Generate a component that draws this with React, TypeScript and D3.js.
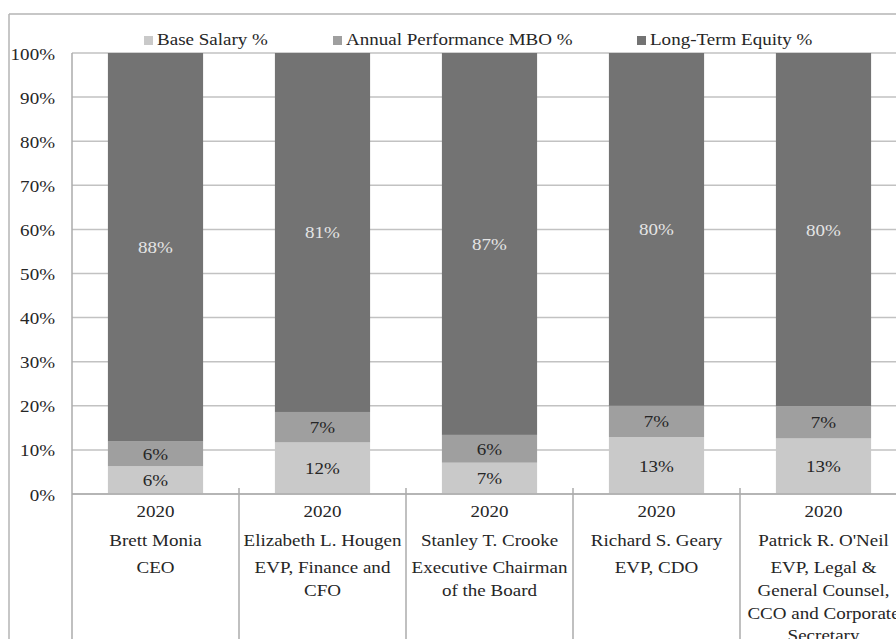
import React from 'react';
import * as d3 from 'd3';

const names = ['Brett Monia', 'Elizabeth L. Hougen', 'Stanley T. Crooke', 'Richard S. Geary', "Patrick R. O'Neil"];
const years = ['2020', '2020', '2020', '2020', '2020'];
const roles = [
  ['CEO'],
  ['EVP, Finance and', 'CFO'],
  ['Executive Chairman', 'of the Board'],
  ['EVP, CDO'],
  ['EVP, Legal &', 'General Counsel,', 'CCO and Corporate', 'Secretary'],
];
const baseSalary = [6.3, 11.7, 7.1, 12.9, 12.6];
const annualMbo = [5.6, 6.9, 6.3, 7.1, 7.3];
const longTermEquity = [88.1, 81.4, 86.6, 80.0, 80.1];
const seriesNames = ['Base Salary %', 'Annual Performance MBO %', 'Long-Term Equity %'];
const yTicks = [0, 10, 20, 30, 40, 50, 60, 70, 80, 90, 100];

const colors = ['#c9c9c9', '#9f9f9f', '#737373'];
const labelColors = ['#262626', '#262626', '#e4e4e4'];
const FONT = "'Liberation Serif', 'DejaVu Serif', serif";
const SX = 1.12;

function T({ x, y, anchor = 'middle', fill = '#262626', children }) {
  return (
    <text
      transform={`translate(${x},${y}) scale(${SX},1)`}
      textAnchor={anchor}
      fill={fill}
      style={{ fontFamily: FONT, fontSize: '17px' }}
    >
      {children}
    </text>
  );
}

export default function App() {
  const width = 896;
  const height = 639;
  const plotLeft = 72;
  const plotRight = 907;

  const y = d3.scaleLinear().domain([0, 100]).range([494, 53]);
  const x = d3.scaleBand().domain(names).range([plotLeft, plotRight])
    .paddingInner(0.43).paddingOuter(0.215);
  const cat = d3.scaleBand().domain(names).range([plotLeft, plotRight]).padding(0);

  const table = names.map((n, i) => ({
    name: n, base: baseSalary[i], mbo: annualMbo[i], lte: longTermEquity[i],
  }));
  const stacked = d3.stack().keys(['base', 'mbo', 'lte'])(table);

  const legendX = [144, 333, 637];

  return (
    <svg
      width={width}
      height={height}
      style={{ position: 'absolute', left: 0, top: 0, background: '#fff', overflow: 'hidden' }}
    >
      {/* outer chart border (cropped) */}
      <line x1={9} x2={width} y1={14} y2={14} stroke="#b4b4b4" strokeWidth={1.5} />
      <line x1={9} x2={9} y1={14} y2={height} stroke="#b4b4b4" strokeWidth={1.5} />

      {/* gridlines */}
      {yTicks.map((t) => (
        <line key={t} x1={plotLeft} x2={plotRight} y1={y(t)} y2={y(t)} stroke="#c2c2c2" strokeWidth={1.5} />
      ))}

      {/* bars */}
      {stacked.map((s, si) => (
        <g key={s.key} fill={colors[si]}>
          {s.map((d, i) => (
            <rect
              key={i}
              x={x(names[i])}
              width={x.bandwidth()}
              y={y(d[1])}
              height={y(d[0]) - y(d[1])}
            />
          ))}
        </g>
      ))}

      {/* data labels */}
      {stacked.map((s, si) => s.map((d, i) => (
        <T
          key={`${si}-${i}`}
          x={x(names[i]) + x.bandwidth() / 2}
          y={(y(d[0]) + y(d[1])) / 2 + 6}
          fill={labelColors[si]}
        >
          {`${Math.round(d[1] - d[0])}%`}
        </T>
      )))}

      {/* axes */}
      <line x1={plotLeft} x2={plotRight} y1={y(0)} y2={y(0)} stroke="#ababab" strokeWidth={1.5} />
      <line x1={plotLeft} x2={plotLeft} y1={y(100)} y2={height} stroke="#ababab" strokeWidth={1.5} />
      {names.slice(1).map((n) => (
        <line key={n} x1={cat(n)} x2={cat(n)} y1={y(0) - 6} y2={height} stroke="#ababab" strokeWidth={1.5} />
      ))}

      {yTicks.map((t) => (
        <T key={t} x={55} y={y(t) + 6.5} anchor="end">{`${t}%`}</T>
      ))}

      {/* category labels */}
      {names.map((n, i) => {
        const cx = cat(n) + cat.bandwidth() / 2;
        return (
          <g key={n}>
            <T x={cx} y={517}>{years[i]}</T>
            <T x={cx} y={545.5}>{n}</T>
            {roles[i].map((r, j) => (
              <T key={j} x={cx} y={573.3 + j * 22.6}>{r}</T>
            ))}
          </g>
        );
      })}

      {/* legend */}
      {seriesNames.map((s, i) => (
        <g key={s}>
          <rect x={legendX[i]} y={36} width={9} height={9} fill={colors[i]} />
          <T x={legendX[i] + 13} y={45} anchor="start">{s}</T>
        </g>
      ))}
    </svg>
  );
}
